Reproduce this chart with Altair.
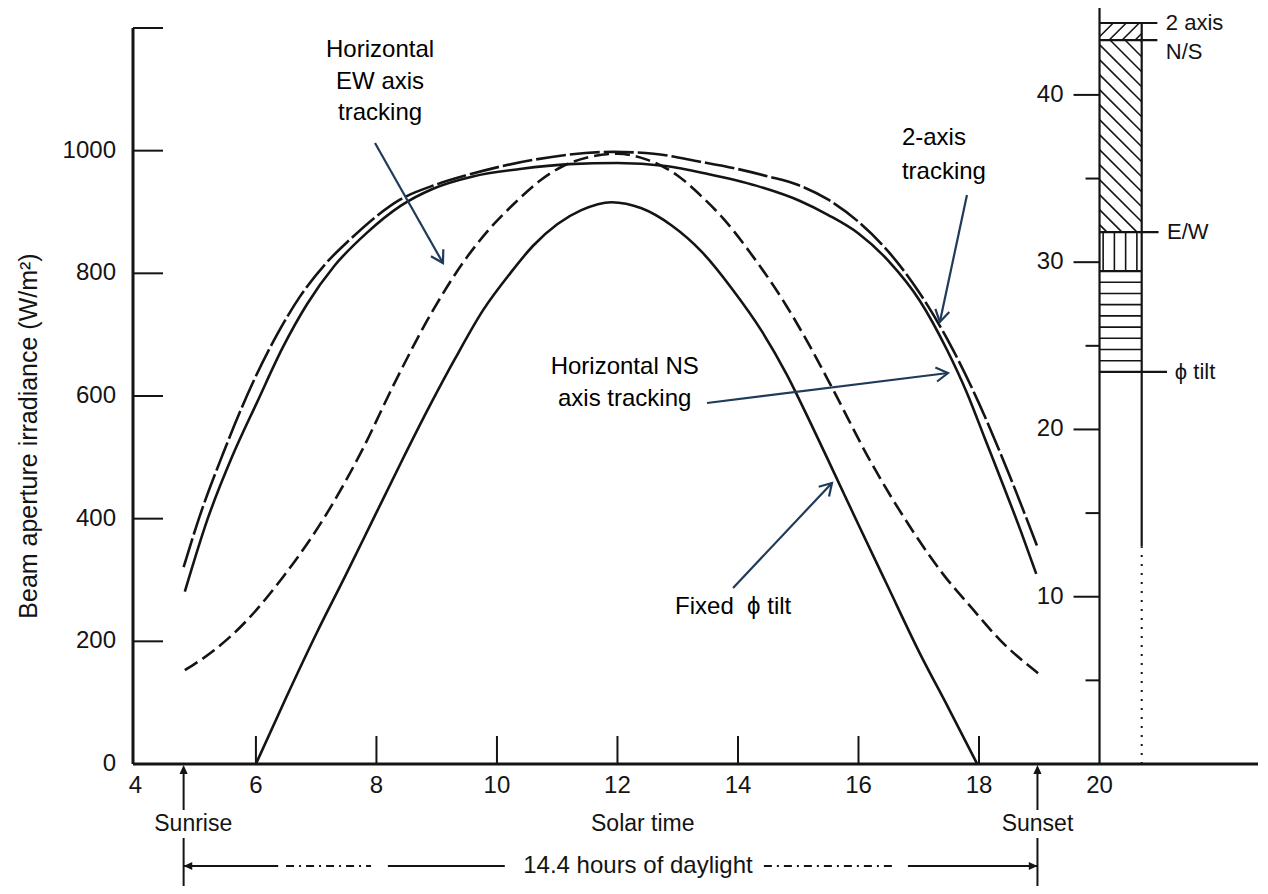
import math
import altair as alt
import numpy as np
import pandas as pd

# ---------------- data ----------------
# solar time (h) and beam aperture irradiance (W/m2)
TWO_AXIS_T = [4.8, 5.07, 5.45, 5.95, 6.35, 6.73, 7.15, 7.56, 8.0, 8.39, 9.0, 9.5, 10.6, 11.93, 12.6, 13.37, 14.0, 14.5, 15.0, 15.5, 16.0, 16.5, 17.0, 17.5, 18.0, 18.5, 18.97]
TWO_AXIS_I = [321, 405, 505, 622, 700, 762, 815, 855, 893, 920, 945, 960, 985, 998, 995, 982, 970, 958, 944, 920, 884, 835, 770, 688, 588, 472, 354]

NS_T = [4.82, 5.2, 5.6, 6.02, 6.45, 6.85, 7.3, 7.84, 8.4, 8.94, 9.6, 10.38, 11.2, 12.0, 12.8, 13.5, 14.3, 15.03, 15.5, 16.0, 16.5, 17.02, 17.47, 17.8, 18.1, 18.4, 18.7, 18.95]
NS_I = [281, 400, 500, 590, 680, 750, 812, 866, 910, 938, 958, 970, 978, 980, 975, 962, 943, 918, 895, 865, 820, 755, 675, 605, 530, 455, 378, 310]

EW_T = [4.82, 5.3, 5.78, 6.45, 7.18, 7.78, 8.27, 8.94, 9.47, 9.9, 10.3, 10.7, 11.1, 11.5, 12.0, 12.5, 12.99, 13.4, 13.75, 14.2, 14.81, 15.2, 15.58, 16.19, 16.9, 17.4, 17.9, 18.35, 18.98]
EW_I = [153, 185, 227, 305, 409, 515, 615, 740, 822, 875, 915, 950, 975, 989, 995, 985, 960, 925, 890, 834, 746, 680, 610, 495, 380, 310, 252, 202, 148]

FIX_T = [6.0, 6.5, 7.01, 7.5, 7.94, 8.4, 8.89, 9.3, 9.77, 10.22, 10.6, 11.0, 11.4, 11.9, 12.4, 12.9, 13.4, 13.9, 14.4, 14.81, 15.2, 15.58, 16.0, 16.47, 17.02, 17.5, 17.97]
FIX_I = [0, 108, 214, 310, 398, 490, 585, 660, 740, 800, 845, 880, 903, 916, 906, 878, 835, 775, 705, 635, 557, 478, 390, 293, 180, 90, 0]

X_TICKS = [4, 6, 8, 10, 12, 14, 16, 18, 20]
X_INNER_TICKS = [6, 8, 10, 12, 14, 16, 18]
Y_LABELS = [0, 200, 400, 600, 800, 1000]
Y_INNER_TICKS = [200, 400, 600, 800, 1000, 1200]

SUNRISE, SUNSET = 4.8, 18.97

# daily-total bar (its own right-hand scale, 0..44 over the plot height)
BAR_MAX = 44
BAR_X0, BAR_X1 = 20.0, 20.7
BAR_PHI, BAR_HTOP, BAR_EW, BAR_NS, BAR_TWO = 23.44, 29.47, 31.8, 43.28, 44.3
BAR_MAJOR = [10, 20, 30, 40]
BAR_MINOR = [5, 15, 25, 35]
BAR_LABELS = ["2 axis", "N/S", "E/W", "ϕ tilt"]
BAR_LABEL_X = [21.1, 21.1, 21.12, 21.25]
BAR_LABEL_Y = [44.3, 42.55, 31.8, 23.44]

# call-outs
ANN_C_TEXT = ["Horizontal", "EW axis", "tracking", "Horizontal NS", "axis tracking", "Fixed\u00a0 ϕ tilt"]
ANN_C_X = [8.06, 8.06, 8.06, 12.12, 12.12, 13.92]
ANN_C_Y = [1164, 1112, 1061, 647, 595, 256]
ANN_L_TEXT = ["2-axis", "tracking"]
ANN_L_X = [16.72, 16.72]
ANN_L_Y = [1021, 965]
ARROW_TAIL_T = [7.976, 17.80, 13.486, 13.918]
ARROW_TAIL_I = [1012.5, 927.7, 588.6, 287.0]
ARROW_TIP_T = [9.104, 17.35, 17.485, 15.56]
ARROW_TIP_I = [816.8, 720.7, 637.5, 458.2]

# ---------------- layout / style ----------------
W, H = 1125, 736
X_DOM = [3.96, 22.63]
Y_DOM = [0, 1200]
B2Y = Y_DOM[1] / BAR_MAX          # bar units -> irradiance units on the shared scale
PX_X = W / (X_DOM[1] - X_DOM[0])
PX_Y = H / (Y_DOM[1] - Y_DOM[0])
PX_B = PX_Y * B2Y

INK = "#141414"
NAVY = "#1F3A5A"
FONT = "Liberation Sans"
ARROW_PATH = "M-0.6,1L0,0L0.6,1"
HEAD_PATH = "M0,0L-0.45,1L0.45,1Z"

xs = alt.Scale(domain=X_DOM, nice=False, zero=False)
ys = alt.Scale(domain=Y_DOM, nice=False, zero=False)


def X(field="t"):
    return alt.X(f"{field}:Q", scale=xs, axis=None)


def Y(field="irr"):
    return alt.Y(f"{field}:Q", scale=ys, axis=None)


def curve(t, v, dash=None):
    df = pd.DataFrame({"t": t, "irr": v})
    kw = dict(color=INK, strokeWidth=2.6, interpolate="monotone", clip=False)
    if dash:
        kw["strokeDash"] = dash
    return alt.Chart(df).mark_line(**kw).encode(x=X(), y=Y())


layers = [
    curve(TWO_AXIS_T, TWO_AXIS_I, [30, 4]),
    curve(NS_T, NS_I),
    curve(EW_T, EW_I, [15, 6]),
    curve(FIX_T, FIX_I),
]

# axes drawn from the scales
axes_df = pd.DataFrame({"t": [X_DOM[0], X_DOM[0]], "t2": [X_DOM[1], X_DOM[0]],
                        "irr": [0, 0], "irr2": [0, Y_DOM[1]]})
layers.append(alt.Chart(axes_df).mark_rule(color=INK, strokeWidth=3).encode(
    x=X(), x2="t2:Q", y=Y(), y2="irr2:Q"))
layers.append(alt.Chart(pd.DataFrame({"t": X_INNER_TICKS})).mark_rule(color=INK, strokeWidth=2).encode(
    x=X(), y=alt.value(H), y2=alt.value(H - 28)))
layers.append(alt.Chart(pd.DataFrame({"irr": Y_INNER_TICKS})).mark_rule(color=INK, strokeWidth=2).encode(
    y=Y(), x=alt.value(0), x2=alt.value(30)))
layers.append(alt.Chart(pd.DataFrame({"t": X_TICKS, "s": [str(v) for v in X_TICKS]})).mark_text(
    font=FONT, fontSize=24, color=INK, align="center", baseline="middle").encode(
    text="s:N", x=X(), y=alt.value(H + 22)))
layers.append(alt.Chart(pd.DataFrame({"irr": Y_LABELS, "s": [str(v) for v in Y_LABELS]})).mark_text(
    font=FONT, fontSize=24, color=INK, align="right", baseline="middle").encode(
    text="s:N", y=Y(), x=alt.value(-17)))

# y title
layers.append(alt.Chart(pd.DataFrame({"s": ["Beam aperture irradiance (W/m²)"]})).mark_text(
    font=FONT, fontSize=25, color=INK, angle=270, align="center", baseline="middle").encode(
    text="s:N", x=alt.value(-104), y=alt.value(408)))

# bottom labels
bottom = pd.DataFrame({"t": [4.96, 12.42, SUNSET], "s": ["Sunrise", "Solar time", "Sunset"]})
layers.append(alt.Chart(bottom).mark_text(font=FONT, fontSize=23, color=INK, align="center",
                                          baseline="middle").encode(text="s:N", x=X(), y=alt.value(796)))
layers.append(alt.Chart(pd.DataFrame({"t": [12.34], "s": ["14.4 hours of daylight"]})).mark_text(
    font=FONT, fontSize=24, color=INK, align="center", baseline="middle").encode(
    text="s:N", x=X(), y=alt.value(838)))

# sunrise / sunset markers
sun = pd.DataFrame({"t": [SUNRISE, SUNSET]})
layers.append(alt.Chart(sun).mark_rule(color=INK, strokeWidth=2).encode(x=X(), y=alt.value(740), y2=alt.value(782)))
layers.append(alt.Chart(sun).mark_rule(color=INK, strokeWidth=2).encode(x=X(), y=alt.value(810), y2=alt.value(858)))
layers.append(alt.Chart(sun).mark_point(shape=HEAD_PATH, filled=True, size=330, color=INK, opacity=1).encode(
    x=X(), y=alt.value(737)))

# dimension line pieces
dim_solid = pd.DataFrame({"t": [SUNRISE, 8.19, 16.82], "t2": [6.37, 10.13, SUNSET]})
dim_dot = pd.DataFrame({"t": [6.5, 14.43], "t2": [7.91, 16.62]})
layers.append(alt.Chart(dim_solid).mark_rule(color=INK, strokeWidth=2).encode(x=X(), x2="t2:Q", y=alt.value(838)))
layers.append(alt.Chart(dim_dot).mark_rule(color=INK, strokeWidth=2, strokeDash=[8, 5, 2, 5]).encode(
    x=X(), x2="t2:Q", y=alt.value(838)))
layers.append(alt.Chart(pd.DataFrame({"t": [SUNRISE, SUNSET], "a": [270, 90]})).mark_point(
    shape=HEAD_PATH, filled=True, size=300, color=INK, opacity=1).encode(
    x=X(), y=alt.value(838), angle=alt.Angle("a:Q", scale=None)))

# call-out texts and arrows
layers.append(alt.Chart(pd.DataFrame({"t": ANN_C_X, "irr": ANN_C_Y, "s": ANN_C_TEXT})).mark_text(
    font=FONT, fontSize=24, color="#000000", align="center", baseline="middle").encode(
    text="s:N", x=X(), y=Y()))
layers.append(alt.Chart(pd.DataFrame({"t": ANN_L_X, "irr": ANN_L_Y, "s": ANN_L_TEXT})).mark_text(
    font=FONT, fontSize=24, color="#000000", align="left", baseline="middle").encode(
    text="s:N", x=X(), y=Y()))

angles = []
for t0, i0, t1, i1 in zip(ARROW_TAIL_T, ARROW_TAIL_I, ARROW_TIP_T, ARROW_TIP_I):
    dx = (t1 - t0) * PX_X
    dy = -(i1 - i0) * PX_Y
    angles.append(math.degrees(math.atan2(dx, -dy)) % 360)
arrows = pd.DataFrame({"t": ARROW_TAIL_T, "irr": ARROW_TAIL_I, "t2": ARROW_TIP_T, "irr2": ARROW_TIP_I, "a": angles})
layers.append(alt.Chart(arrows).mark_rule(color=NAVY, strokeWidth=2.2).encode(
    x=X(), y=Y(), x2="t2:Q", y2="irr2:Q"))
layers.append(alt.Chart(arrows).mark_point(shape=ARROW_PATH, filled=False, size=560, color=NAVY,
                                           strokeWidth=2.2, opacity=1).encode(
    x=X("t2"), y=Y("irr2"), angle=alt.Angle("a:Q", scale=None)))

# ---------------- daily-total bar ----------------
bw = (BAR_X1 - BAR_X0) * PX_X


def diag(b0, b1, step, back):
    h = (b1 - b0) * PX_B
    rows = []
    if back:  # "\" lines
        for c in np.arange(step / 2, h + bw, step):
            ua, ub = max(0.0, c - h), min(bw, c)
            if ub > ua:
                rows.append((ua, c - ua, ub, c - ub))
    else:  # "/" lines
        for c in np.arange(-bw + step / 2, h, step):
            ua, ub = max(0.0, -c), min(bw, h - c)
            if ub > ua:
                rows.append((ua, ua + c, ub, ub + c))
    return [(BAR_X0 + a / PX_X, b0 + p / PX_B, BAR_X0 + b / PX_X, b0 + q / PX_B) for a, p, b, q in rows]


segs = []
segs += diag(BAR_EW, BAR_NS, 15, True)
segs += diag(BAR_NS, BAR_TWO, 13, False)
for yv in np.linspace(BAR_PHI, BAR_HTOP, 10)[1:-1]:
    segs.append((BAR_X0, yv, BAR_X1, yv))
for xv in np.linspace(BAR_X0 + 0.06, BAR_X1 - 0.08, 4):
    segs.append((xv, BAR_HTOP, xv, BAR_EW))
hatch = pd.DataFrame(segs, columns=["t", "b", "t2", "b2"])
hatch["irr"], hatch["irr2"] = hatch["b"] * B2Y, hatch["b2"] * B2Y
layers.append(alt.Chart(hatch).mark_rule(color=INK, strokeWidth=1.6).encode(
    x=X(), x2="t2:Q", y=Y(), y2="irr2:Q"))

outline = pd.DataFrame({
    "t":  [BAR_X0, BAR_X0 - 0.12, BAR_X1, BAR_X0, BAR_X0, BAR_X0, BAR_X0, BAR_X0],
    "t2": [BAR_X0, BAR_X0, BAR_X1, 20.96, 20.96, 20.98, BAR_X1, 21.12],
    "b":  [0, 45.35, 13, BAR_TWO, BAR_NS, BAR_EW, BAR_HTOP, BAR_PHI],
    "b2": [45.35, 45.35, BAR_TWO, BAR_TWO, BAR_NS, BAR_EW, BAR_HTOP, BAR_PHI],
})
outline["irr"], outline["irr2"] = outline["b"] * B2Y, outline["b2"] * B2Y
layers.append(alt.Chart(outline).mark_rule(color=INK, strokeWidth=2.2).encode(
    x=X(), x2="t2:Q", y=Y(), y2="irr2:Q"))
dotted = pd.DataFrame({"t": [BAR_X1], "b": [0], "b2": [13]})
dotted["irr"], dotted["irr2"] = dotted["b"] * B2Y, dotted["b2"] * B2Y
layers.append(alt.Chart(dotted).mark_rule(color=INK, strokeWidth=2, strokeDash=[2, 7]).encode(
    x=X(), y=Y(), y2="irr2:Q"))

bticks = pd.DataFrame({"t": [BAR_X0 - 26 / PX_X] * 4 + [BAR_X0 - 14 / PX_X] * 4,
                       "t2": [BAR_X0] * 8, "b": BAR_MAJOR + BAR_MINOR})
bticks["irr"] = bticks["b"] * B2Y
layers.append(alt.Chart(bticks).mark_rule(color=INK, strokeWidth=2).encode(x=X(), x2="t2:Q", y=Y()))
blab = pd.DataFrame({"t": [BAR_X0] * 4, "b": BAR_MAJOR, "s": [str(v) for v in BAR_MAJOR]})
blab["irr"] = blab["b"] * B2Y
layers.append(alt.Chart(blab).mark_text(font=FONT, fontSize=24, color=INK, align="right",
                                        baseline="middle", dx=-36).encode(text="s:N", x=X(), y=Y()))
bnames = pd.DataFrame({"t": BAR_LABEL_X, "b": BAR_LABEL_Y, "s": BAR_LABELS})
bnames["irr"] = bnames["b"] * B2Y
layers.append(alt.Chart(bnames).mark_text(font=FONT, fontSize=22, color=INK, align="left",
                                          baseline="middle").encode(text="s:N", x=X(), y=Y()))

chart = alt.layer(*layers).properties(
    width=W, height=H,
    padding={"left": 125, "top": 20, "right": 0, "bottom": 122},
    autosize=alt.AutoSizeParams(type="none"),
    background="white",
).configure_view(stroke=None)

chart.save("out.html", embed_options={"renderer": "svg", "actions": False})
